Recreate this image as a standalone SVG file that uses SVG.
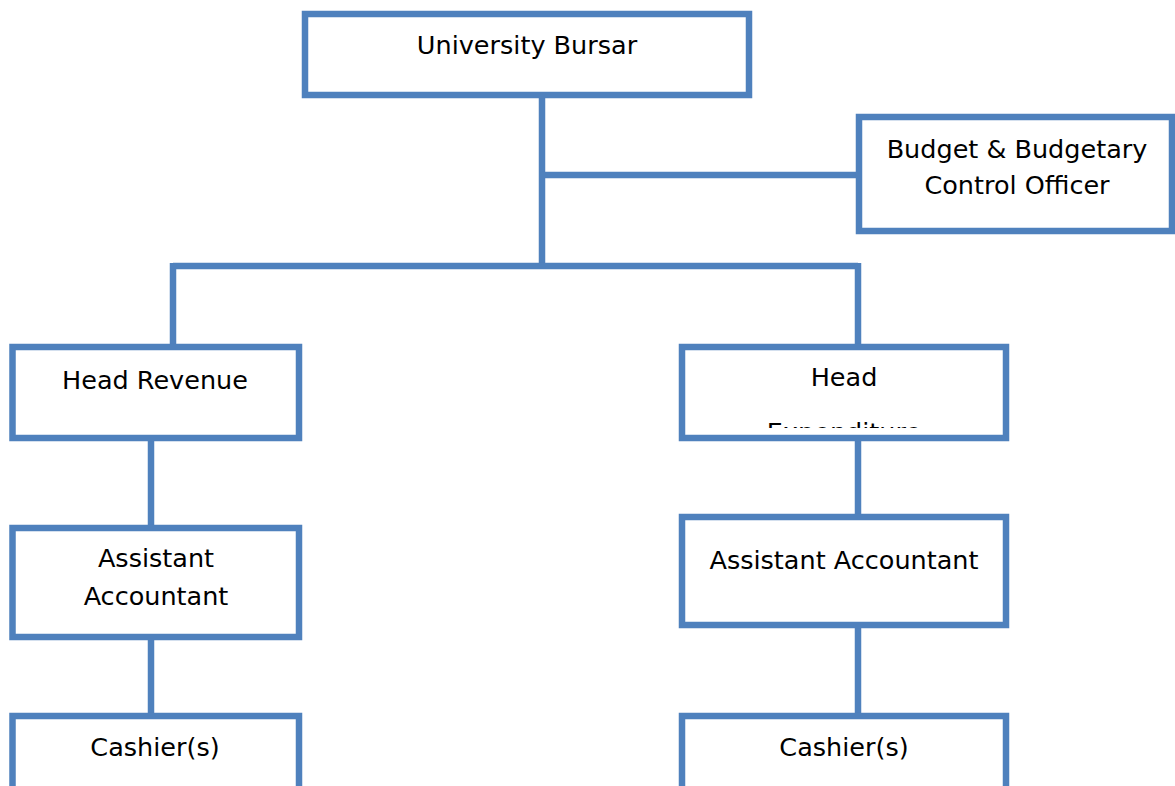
<svg xmlns="http://www.w3.org/2000/svg" width="1175" height="786" viewBox="0 0 1175 786">
  <style>
    .box { fill: #ffffff; stroke: #4f81bd; stroke-width: 6.5; }
    .link { fill: none; stroke: #4f81bd; stroke-width: 6.5; }
    .label { font-family: "DejaVu Sans", "Liberation Sans", sans-serif; font-size: 25.5px; fill: #000000; text-anchor: middle; }
  </style>
  <defs>
    <clipPath id="clip-head-exp">
      <rect x="685" y="350" width="318" height="78"/>
    </clipPath>
  </defs>
  <rect width="1175" height="786" fill="#ffffff"/>

  <!-- connectors -->
  <g id="connectors">
    <path class="link" d="M542,96 V266"/>
    <path class="link" d="M542,175 H858"/>
    <path class="link" d="M173,266 H858"/>
    <path class="link" d="M173,263 V348"/>
    <path class="link" d="M858,263 V348"/>
    <path class="link" d="M151,437 V528"/>
    <path class="link" d="M858,437 V518"/>
    <path class="link" d="M151,638 V716"/>
    <path class="link" d="M858,626 V716"/>
  </g>

  <g id="node-bursar">
    <rect class="box" x="305" y="14" width="444" height="81"/>
    <text class="label" x="527" y="54">University Bursar</text>
  </g>

  <g id="node-budget">
    <rect class="box" x="859" y="117" width="313" height="114"/>
    <text class="label" x="1017" y="158">Budget &amp; Budgetary</text>
    <text class="label" x="1017" y="194">Control Officer</text>
  </g>

  <g id="node-head-revenue">
    <rect class="box" x="12.5" y="347" width="286.5" height="91"/>
    <text class="label" x="155" y="389">Head Revenue</text>
  </g>

  <g id="node-head-expenditure">
    <rect class="box" x="682" y="347" width="324" height="91"/>
    <!-- second line overflows the box and is cut at its lower edge -->
    <g clip-path="url(#clip-head-exp)">
      <text class="label" x="844" y="386">Head</text>
      <text class="label" x="844" y="441">Expenditure</text>
    </g>
  </g>

  <g id="node-asst-left">
    <rect class="box" x="12.5" y="528" width="286.5" height="109"/>
    <text class="label" x="156" y="567">Assistant</text>
    <text class="label" x="156" y="605">Accountant</text>
  </g>

  <g id="node-asst-right">
    <rect class="box" x="682" y="517" width="324" height="108"/>
    <text class="label" x="844" y="569">Assistant Accountant</text>
  </g>

  <g id="node-cashier-left">
    <rect class="box" x="12.5" y="716" width="286.5" height="90"/>
    <text class="label" x="155" y="756">Cashier(s)</text>
  </g>

  <g id="node-cashier-right">
    <rect class="box" x="682" y="716" width="324" height="90"/>
    <text class="label" x="844" y="756">Cashier(s)</text>
  </g>
</svg>
